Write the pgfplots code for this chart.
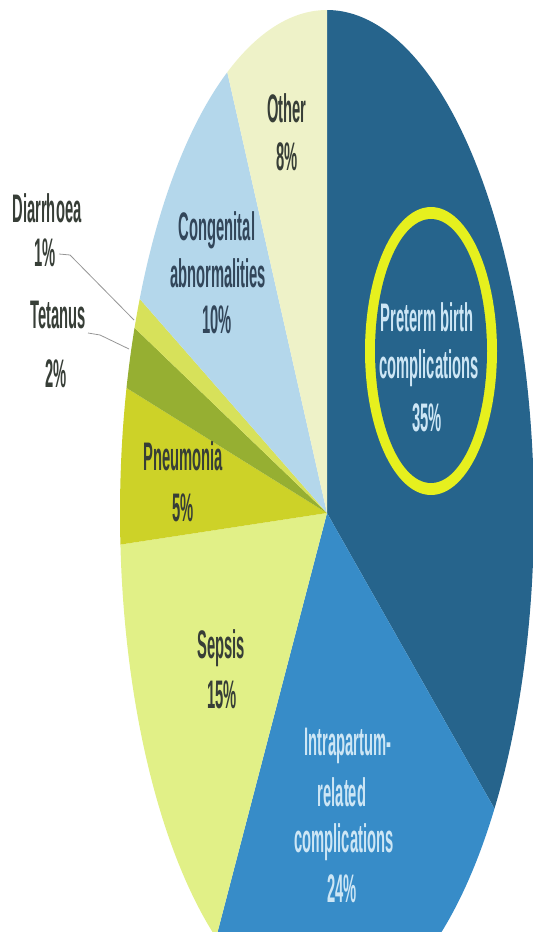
\documentclass[border=0pt]{standalone}
\usepackage{pgfplots}
\pgfplotsset{compat=1.18}
\usepackage{graphicx}
\usepackage{fontspec}
\setmainfont{Liberation Sans}

\definecolor{cPre}{RGB}{38,100,140}
\definecolor{cInt}{RGB}{55,140,200}
\definecolor{cSep}{RGB}{225,240,135}
\definecolor{cPne}{RGB}{205,210,40}
\definecolor{cTet}{RGB}{150,175,50}
\definecolor{cDia}{RGB}{215,225,90}
\definecolor{cCon}{RGB}{180,215,235}
\definecolor{cOth}{RGB}{238,242,200}
\definecolor{cRing}{RGB}{230,240,30}
\definecolor{tDark}{RGB}{55,62,55}
\definecolor{tCon}{RGB}{50,70,90}
\definecolor{tLight}{RGB}{205,230,245}
\definecolor{cLead}{RGB}{150,150,150}

% shares of neonatal deaths (%)
\def\vPre{35}
\def\vInt{24}
\def\vSep{15}
\def\vPne{5}
\def\vTet{2}
\def\vDia{1}
\def\vCon{10}
\def\vOth{8}

% pie geometry (pixel units, y downwards)
\def\pcx{327}
\def\pcy{513}
\def\prx{207}
\def\pry{503}

\pgfmathsetmacro\aA{90}
\pgfmathsetmacro\aB{\aA-3.6*\vPre}
\pgfmathsetmacro\aC{\aB-3.6*\vInt}
\pgfmathsetmacro\aD{\aC-3.6*\vSep}
\pgfmathsetmacro\aE{\aD-3.6*\vPne}
\pgfmathsetmacro\aF{\aE-3.6*\vTet}
\pgfmathsetmacro\aG{\aF-3.6*\vDia}
\pgfmathsetmacro\aH{\aG-3.6*\vCon}
\pgfmathsetmacro\aI{\aH-3.6*\vOth}

\newcommand\lbl[1]{\scalebox{0.74}[2.0]{\fontsize{20}{23.5}\selectfont\bfseries #1}}

\begin{document}
\begin{tikzpicture}
\begin{axis}[
  width=533bp, height=932bp, scale only axis,
  xmin=0, xmax=533, ymin=0, ymax=932, y dir=reverse,
  hide axis, clip=true,
]
\coordinate (p1) at (rel axis cs:0,0);
\coordinate (p2) at (rel axis cs:1,1);

\addplot[draw=none, fill=cPre, domain=\aB:\aA, samples=120, variable=\t]
  ({\pcx+\prx*cos(\t)}, {\pcy-\pry*sin(\t)}) -- (axis cs:\pcx,\pcy) -- cycle;
\addplot[draw=none, fill=cInt, domain=\aC:\aB, samples=100, variable=\t]
  ({\pcx+\prx*cos(\t)}, {\pcy-\pry*sin(\t)}) -- (axis cs:\pcx,\pcy) -- cycle;
\addplot[draw=none, fill=cSep, domain=\aD:\aC, samples=80, variable=\t]
  ({\pcx+\prx*cos(\t)}, {\pcy-\pry*sin(\t)}) -- (axis cs:\pcx,\pcy) -- cycle;
\addplot[draw=none, fill=cPne, domain=\aE:\aD, samples=30, variable=\t]
  ({\pcx+\prx*cos(\t)}, {\pcy-\pry*sin(\t)}) -- (axis cs:\pcx,\pcy) -- cycle;
\addplot[draw=none, fill=cTet, domain=\aF:\aE, samples=15, variable=\t]
  ({\pcx+\prx*cos(\t)}, {\pcy-\pry*sin(\t)}) -- (axis cs:\pcx,\pcy) -- cycle;
\addplot[draw=none, fill=cDia, domain=\aG:\aF, samples=10, variable=\t]
  ({\pcx+\prx*cos(\t)}, {\pcy-\pry*sin(\t)}) -- (axis cs:\pcx,\pcy) -- cycle;
\addplot[draw=none, fill=cCon, domain=\aH:\aG, samples=60, variable=\t]
  ({\pcx+\prx*cos(\t)}, {\pcy-\pry*sin(\t)}) -- (axis cs:\pcx,\pcy) -- cycle;
\addplot[draw=none, fill=cOth, domain=\aI:\aH, samples=50, variable=\t]
  ({\pcx+\prx*cos(\t)}, {\pcy-\pry*sin(\t)}) -- (axis cs:\pcx,\pcy) -- cycle;

% highlight ring around the preterm label
\addplot[draw=none, fill=cRing, domain=0:360, samples=120, variable=\t]
  ({431+66*cos(\t)}, {351-144*sin(\t)}) -- cycle;
\addplot[draw=none, fill=cPre, domain=0:360, samples=120, variable=\t]
  ({431+56*cos(\t)}, {351-132*sin(\t)}) -- cycle;

% leader lines
\addplot[cLead, line width=0.8pt] coordinates {(59,254) (70,255) (134,320)};
\addplot[cLead, line width=0.8pt] coordinates {(88,333) (100,335) (129,349)};

% labels
\node[anchor=base, text=tDark] at (axis cs:287,122) {\lbl{Other}};
\node[anchor=base, text=tDark] at (axis cs:287,170) {\lbl{8\%}};
\node[anchor=base, text=tCon] at (axis cs:217,240) {\lbl{Congenital}};
\node[anchor=base, text=tCon] at (axis cs:218,287) {\lbl{abnormalities}};
\node[anchor=base, text=tCon] at (axis cs:217,333) {\lbl{10\%}};
\node[anchor=base, text=tLight] at (axis cs:427,331) {\lbl{Preterm birth}};
\node[anchor=base, text=tLight] at (axis cs:429,378) {\lbl{complications}};
\node[anchor=base, text=tLight] at (axis cs:427,431) {\lbl{35\%}};
\node[anchor=base, text=tDark] at (axis cs:183,470) {\lbl{Pneumonia}};
\node[anchor=base, text=tDark] at (axis cs:183,521) {\lbl{5\%}};
\node[anchor=base, text=tDark] at (axis cs:221,658) {\lbl{Sepsis}};
\node[anchor=base, text=tDark] at (axis cs:222,708) {\lbl{15\%}};
\node[anchor=base, text=tLight] at (axis cs:348,755) {\lbl{Intrapartum-}};
\node[anchor=base, text=tLight] at (axis cs:342,806) {\lbl{related}};
\node[anchor=base, text=tLight] at (axis cs:344,852) {\lbl{complications}};
\node[anchor=base, text=tLight] at (axis cs:342,902) {\lbl{24\%}};
\node[anchor=base, text=tDark] at (axis cs:47,222) {\lbl{Diarrhoea}};
\node[anchor=base, text=tDark] at (axis cs:45,266) {\lbl{1\%}};
\node[anchor=base, text=tDark] at (axis cs:58,328) {\lbl{Tetanus}};
\node[anchor=base, text=tDark] at (axis cs:56,387) {\lbl{2\%}};
\end{axis}
\pgfresetboundingbox
\path[use as bounding box] (p1) rectangle (p2);
\end{tikzpicture}
\end{document}
